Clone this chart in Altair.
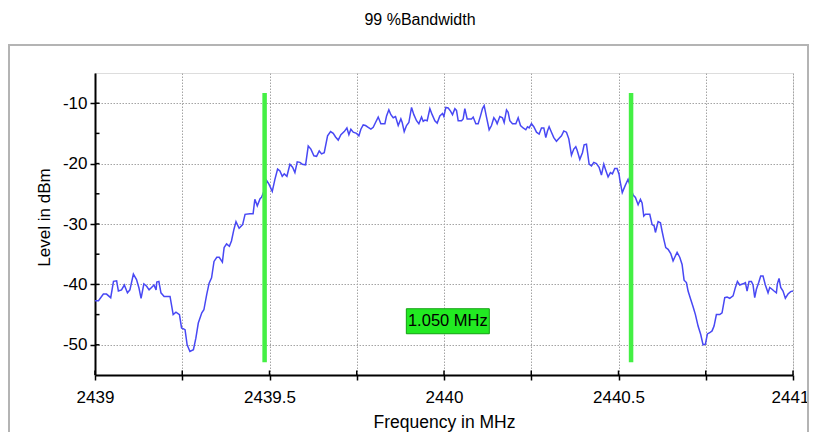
import altair as alt
import pandas as pd

# ---- trace data (frequency in MHz, level in dBm) ----
freq = [
    2439.000, 2439.010, 2439.024, 2439.033, 2439.045, 2439.053, 2439.062, 2439.067, 2439.076, 2439.084,
    2439.093, 2439.100, 2439.110, 2439.119, 2439.126, 2439.132, 2439.140, 2439.148, 2439.155, 2439.162,
    2439.169, 2439.175, 2439.177, 2439.183, 2439.189, 2439.198, 2439.215, 2439.224, 2439.232, 2439.242,
    2439.248, 2439.258, 2439.264, 2439.272, 2439.282, 2439.289, 2439.296, 2439.306, 2439.312, 2439.320,
    2439.327, 2439.334, 2439.341, 2439.349, 2439.356, 2439.365, 2439.370, 2439.377, 2439.385, 2439.391,
    2439.398, 2439.404, 2439.413, 2439.423, 2439.430, 2439.444, 2439.453, 2439.458, 2439.465, 2439.473,
    2439.477, 2439.486,
    2439.4917, 2439.4984, 2439.5079, 2439.5155, 2439.5232, 2439.5299, 2439.5365, 2439.5423, 2439.5499, 2439.5585,
    2439.5661, 2439.5728, 2439.5795, 2439.5871, 2439.5938, 2439.6034, 2439.6110, 2439.6186, 2439.6272, 2439.6349,
    2439.6425, 2439.6492, 2439.6568, 2439.6664, 2439.6750, 2439.6826, 2439.6893, 2439.6969, 2439.7046, 2439.7141,
    2439.7218, 2439.7275, 2439.7332, 2439.7399, 2439.7494, 2439.7561, 2439.7618, 2439.7685, 2439.7752, 2439.7828,
    2439.7905, 2439.7972, 2439.8038, 2439.8115, 2439.8191, 2439.8306, 2439.8354, 2439.8420, 2439.8478, 2439.8545,
    2439.8611, 2439.8688, 2439.8764, 2439.8802, 2439.8860, 2439.8926, 2439.8993, 2439.9070, 2439.9136, 2439.9213,
    2439.9280, 2439.9356, 2439.9404, 2439.9452, 2439.9518, 2439.9595, 2439.9661, 2439.9738, 2439.9805,
    2439.9881, 2439.9957, 2439.9996, 2440.0053, 2440.0120, 2440.0187, 2440.0244, 2440.0311, 2440.0358, 2440.0406,
    2440.0502, 2440.0549, 2440.0597, 2440.0664, 2440.0788, 2440.0836, 2440.0912, 2440.0979, 2440.1046, 2440.1103,
    2440.1151, 2440.1218, 2440.1294, 2440.1361, 2440.1428, 2440.1485, 2440.1523, 2440.1600, 2440.1676, 2440.1724,
    2440.1791, 2440.1838, 2440.1886, 2440.1962, 2440.2058, 2440.2125, 2440.2192, 2440.2268, 2440.2344, 2440.2392,
    2440.2440, 2440.2506, 2440.2573, 2440.2650, 2440.2726, 2440.2793, 2440.2860, 2440.2917, 2440.2965, 2440.3012,
    2440.3079, 2440.3146, 2440.3222, 2440.3299, 2440.3366, 2440.3433, 2440.3509, 2440.3576, 2440.3652, 2440.3719,
    2440.3776, 2440.3815, 2440.3891, 2440.3967, 2440.4015, 2440.4082, 2440.4158, 2440.4225, 2440.4292, 2440.4368,
    2440.4444, 2440.4511, 2440.4578, 2440.4635, 2440.4702, 2440.4769, 2440.4826, 2440.4893, 2440.4960, 2440.5017,
    2440.5036, 2440.5108, 2440.5194, 2440.5274, 2440.5351,
    2440.5418, 2440.5485, 2440.5562, 2440.5628, 2440.5676, 2440.5724, 2440.5772, 2440.5896, 2440.5963, 2440.6020,
    2440.6058, 2440.6135, 2440.6202, 2440.6249, 2440.6297, 2440.6354, 2440.6421, 2440.6497, 2440.6564, 2440.6612,
    2440.6679, 2440.6755, 2440.6822, 2440.6879, 2440.6946, 2440.6994, 2440.7070, 2440.7137, 2440.7204, 2440.7280,
    2440.7356, 2440.7423, 2440.7490, 2440.7547, 2440.7614, 2440.7681, 2440.7738, 2440.7805, 2440.7901, 2440.7967,
    2440.8044, 2440.8111, 2440.8187, 2440.8283, 2440.8350, 2440.8407, 2440.8474, 2440.8569, 2440.8636, 2440.8684,
    2440.8741, 2440.8808, 2440.8855, 2440.8903, 2440.8951, 2440.9017, 2440.9075, 2440.9141, 2440.9208, 2440.9285,
    2440.9333, 2440.9399, 2440.9457, 2440.9524, 2440.9552, 2440.9600, 2440.9648, 2440.9714, 2440.9781, 2440.9857,
    2440.9934, 2441.0000,
]
level = [
    -42.7, -42.7, -41.6, -41.6, -42.2, -39.5, -39.4, -41.1, -40.9, -40.1,
    -41.4, -40.9, -38.3, -39.2, -40.6, -42.3, -39.9, -40.3, -40.9, -40.5,
    -40.1, -40.9, -39.6, -39.5, -41.4, -42.0, -42.0, -45.0, -44.6, -45.0,
    -47.2, -47.5, -50.0, -51.1, -50.8, -48.9, -46.4, -44.7, -44.2, -41.7,
    -39.8, -38.9, -36.2, -35.5, -35.5, -36.3, -33.9, -33.3, -33.7, -32.8,
    -30.9, -29.6, -30.7, -30.1, -28.4, -28.3, -28.3, -25.9, -27.0, -25.8,
    -25.6, -24.3,
    -22.8, -23.4, -24.6, -22.6, -20.9, -21.2, -22.1, -21.7, -22.1, -20.1,
    -20.6, -21.5, -19.7, -19.8, -20.1, -20.2, -17.1, -17.6, -18.7, -18.8,
    -17.9, -18.4, -18.2, -15.4, -14.7, -15.0, -15.6, -16.1, -15.2, -14.7,
    -14.1, -15.2, -14.3, -14.8, -15.0, -15.4, -14.3, -13.6, -13.7, -14.0,
    -14.3, -14.0, -13.2, -12.3, -13.4, -13.4, -12.1, -11.1, -11.9, -12.4,
    -12.2, -13.7, -12.6, -13.2, -14.7, -13.7, -13.2, -10.7, -11.9, -12.9,
    -13.4, -12.3, -13.0, -12.8, -12.9, -10.9, -11.9, -12.9, -13.3,
    -12.1, -11.7, -12.2, -10.7, -10.8, -11.3, -11.9, -10.9, -11.2, -12.9,
    -12.9, -12.6, -10.9, -12.6, -12.6, -12.3, -13.4, -13.4, -12.1, -10.9,
    -10.4, -12.3, -14.4, -13.7, -12.4, -12.9, -13.4, -12.2, -12.4, -13.2,
    -11.1, -11.5, -12.9, -13.4, -13.4, -12.4, -13.7, -14.1, -14.4, -13.9,
    -14.1, -13.4, -13.9, -14.8, -15.1, -14.1, -14.1, -15.7, -14.6, -13.9,
    -14.8, -15.7, -16.3, -15.8, -15.4, -14.6, -14.8, -15.9, -18.6, -17.6,
    -17.2, -17.8, -19.3, -18.2, -16.9, -16.8, -20.1, -20.4, -19.8, -20.0,
    -20.6, -21.9, -20.1, -21.1, -22.2, -21.5, -21.7, -20.8, -20.8, -21.8,
    -22.6, -24.8, -23.6, -22.6, -24.0,
    -25.2, -25.6, -26.8, -25.9, -26.5, -28.7, -28.4, -28.4, -30.1, -30.3,
    -31.4, -29.6, -29.8, -31.2, -32.5, -33.9, -34.2, -34.9, -36.1, -35.5,
    -34.7, -35.5, -36.7, -39.3, -39.7, -41.1, -42.5, -43.7, -45.0, -46.9,
    -48.3, -50.0, -49.9, -48.2, -48.0, -47.7, -46.9, -45.0, -45.0, -44.7,
    -42.2, -42.1, -42.3, -41.9, -40.5, -39.5, -40.1, -39.9, -39.7, -41.1,
    -39.5, -39.5, -40.1, -42.2, -40.8, -39.7, -38.6, -38.6, -40.1, -41.4,
    -40.5, -40.8, -41.1, -41.4, -39.9, -39.0, -40.5, -41.1, -42.3, -41.6,
    -41.2, -41.1,
]

# 99 % bandwidth markers
marker_freq = [2439.486, 2440.536]
marker_top = [-8.3, -8.3]
marker_bottom = [-52.9, -52.9]

# bandwidth label
label_freq = [2440.011]
label_level = [-46.1]
label_text = ["1.050 MHz"]

# chart title
title_text = ["99 %Bandwidth"]

# axis ticks
x_ticks = [2439.0, 2439.25, 2439.5, 2439.75, 2440.0, 2440.25, 2440.5, 2440.75, 2441.0]
y_ticks = [-50, -45, -40, -35, -30, -25, -20, -15, -10]

FONT = "Liberation Sans"
W, H = 698, 302

trace = pd.DataFrame({"f": freq, "l": level})
markers = pd.DataFrame({"f": marker_freq, "top": marker_top, "bot": marker_bottom})
label = pd.DataFrame({"f": label_freq, "l": label_level, "t": label_text})
ttl = pd.DataFrame({"t": title_text})
xt = pd.DataFrame({"f": x_ticks})
yt = pd.DataFrame({"l": y_ticks})

xs = alt.Scale(domain=[2439, 2441], nice=False, zero=False)
ys = alt.Scale(domain=[-55, -5], nice=False, zero=False)

common_axis = dict(
    grid=True, gridColor="#a4a4a4", gridDash=[1.5, 1.5], gridWidth=1,
    domainColor="black", domainWidth=2, tickColor="black", tickWidth=1.5, tickSize=5,
    labelFont=FONT, labelFontSize=17, labelColor="black",
    titleFont=FONT, titleFontWeight="normal", titleColor="black",
)

x_axis = alt.Axis(
    values=x_ticks,
    labelExpr="round(datum.value*4) % 2 == 0 ? toString(datum.value) : ''",
    labelOffset={"condition": {"test": "datum.value >= 2441", "value": -3}, "value": 0},
    title="Frequency in MHz", titleFontSize=17.5, labelPadding=9.5, titlePadding=7.5,
    labelFlush=False,
    **common_axis,
)
y_axis = alt.Axis(
    values=y_ticks,
    labelExpr="datum.value % 10 == 0 ? toString(datum.value) : ''",
    title="Level in dBm", titleFontSize=17, labelPadding=3, titlePadding=9, titleY=144,
    **common_axis,
)

frame = alt.Chart(pd.DataFrame({"a": [0]})).mark_rect(
    fill="transparent", stroke="#b4b4b4", strokeWidth=2
).encode(x=alt.value(-86), x2=alt.value(713), y=alt.value(-28), y2=alt.value(420))

title = alt.Chart(ttl).mark_text(
    font=FONT, fontSize=16, color="black", align="center", baseline="alphabetic"
).encode(x=alt.value(325), y=alt.value(-48), text="t:N")

line = alt.Chart(trace).mark_line(color="#4848f4", strokeWidth=1.5).encode(
    x=alt.X("f:Q", scale=xs, axis=x_axis),
    y=alt.Y("l:Q", scale=ys, axis=y_axis),
)

rules = alt.Chart(markers).mark_rule(color="#44f044", strokeWidth=4.5, strokeCap="butt").encode(
    x=alt.X("f:Q", scale=xs), y=alt.Y("top:Q", scale=ys), y2="bot:Q"
)

box = alt.Chart(label).mark_point(
    shape="M-1,-0.3012L1,-0.3012L1,0.3012L-1,0.3012Z", size=6889, filled=True,
    fill="#22ea22", stroke="#12a012", strokeWidth=1, opacity=1, fillOpacity=1,
).encode(x=alt.X("f:Q", scale=xs), y=alt.Y("l:Q", scale=ys))

text = alt.Chart(label).mark_text(
    font=FONT, fontSize=16.5, color="black", align="center", baseline="middle"
).encode(x=alt.X("f:Q", scale=xs), y=alt.Y("l:Q", scale=ys), text="t:N")

y_inner = alt.Chart(yt).mark_rule(color="black", strokeWidth=1.5).encode(
    y=alt.Y("l:Q", scale=ys), x=alt.value(0), x2=alt.value(4.5)
)
x_inner = alt.Chart(xt).mark_rule(color="black", strokeWidth=1.5).encode(
    x=alt.X("f:Q", scale=xs), y=alt.value(H), y2=alt.value(H - 4.5)
)

chart = alt.layer(frame, title, line, rules, box, text, y_inner, x_inner).properties(
    width=W, height=H,
    autosize=alt.AutoSizeParams(type="none"),
    padding={"left": 87, "top": 65, "right": 16, "bottom": 57},
).configure_view(strokeWidth=0).configure(background="white")

chart.save("out.html", embed_options={"renderer": "svg", "actions": False})
